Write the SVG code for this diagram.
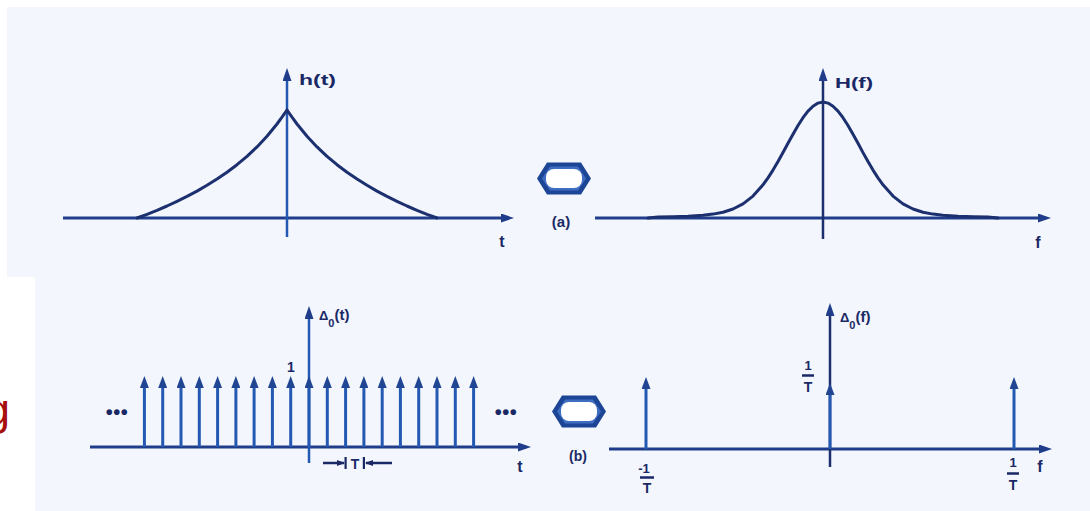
<svg xmlns="http://www.w3.org/2000/svg" width="1090" height="511" viewBox="0 0 1090 511">
<defs>
<style>
.lbl{font-family:"Liberation Sans","DejaVu Sans",sans-serif;font-weight:bold;fill:#1a2966;}
.ax{stroke:#1f3d8a;stroke-width:3;fill:none;}
.vax{stroke:#2459b3;stroke-width:2.5;fill:none;}
.crv{stroke:#1c2f6f;stroke-width:3;fill:none;stroke-linejoin:round;stroke-linecap:round;}
.imp{stroke:#2459b3;stroke-width:3;fill:none;}
.frac{stroke:#1a2966;stroke-width:2.5;}
</style>
<marker id="axh" viewBox="0 0 13 9" markerWidth="13" markerHeight="9" refX="8" refY="4.5" orient="auto" markerUnits="userSpaceOnUse">
<path d="M0,0 L13,4.5 L0,9 z" fill="#1f3d8a"/>
</marker>
<marker id="imph" viewBox="0 0 12 9" markerWidth="12" markerHeight="9" refX="6" refY="4.5" orient="auto" markerUnits="userSpaceOnUse">
<path d="M0,0 L12,4.5 L0,9 z" fill="#1f4593"/>
</marker>
<marker id="sm" viewBox="0 0 8 6" markerWidth="8" markerHeight="6" refX="7" refY="3" orient="auto" markerUnits="userSpaceOnUse">
<path d="M0,0 L8,3 L0,6 z" fill="#1a2966"/>
</marker>
</defs>
<rect x="0" y="0" width="1090" height="511" fill="#ffffff"/>
<rect x="7" y="7" width="1083" height="270" fill="#f3f6fc"/>
<rect x="35" y="277" width="1055" height="234" fill="#f3f6fc"/>
<text x="-15" y="425" font-family="Liberation Sans, sans-serif" font-size="45" fill="#a8100f">g</text>

<g id="plot-a-time">
<line class="ax" x1="63" y1="218" x2="509" y2="218" marker-end="url(#axh)"/>
<line class="vax" x1="287" y1="237" x2="287" y2="73" marker-end="url(#axh)"/>
<path class="crv" d="M137,218 L147,214.3 L157,210.3 L167,206.0 L177,201.3 L187,196.4 L197,191.1 L207,185.3 L217,179.1 L227,172.3 L237,164.7 L247,156.3 L257,146.9 L267,136.2 L277,124.0 L282,117.2 L287,110 L292,117.2 L297,124.0 L307,136.2 L317,146.9 L327,156.3 L337,164.7 L347,172.3 L357,179.1 L367,185.3 L377,191.1 L387,196.4 L397,201.3 L407,206.0 L417,210.3 L427,214.3 L437,218"/>
<text class="lbl" x="299" y="85" font-size="15" textLength="37" lengthAdjust="spacingAndGlyphs">h(t)</text>
<text class="lbl" x="502" y="247" font-size="16" text-anchor="middle">t</text>
</g>

<g id="plot-a-freq">
<line class="ax" x1="595" y1="218" x2="1046" y2="218" marker-end="url(#axh)"/>
<line class="vax" x1="823" y1="239" x2="823" y2="73" marker-end="url(#axh)" style="stroke:#1c2f6f"/>
<path class="crv" d="M648,218 L658,217.1 L673,216.8 L688,216.2 L703,215.2 L713,214.1 L723,212.2 L733,209.0 L743,203.9 L753,196.1 L763,184.8 L768,177.9 L773,170.1 L778,161.6 L783,152.6 L788,143.3 L793,134.2 L798,125.5 L803,117.7 L808,111.1 L813,106.2 L818,103.1 L823,102 L828,103.1 L833,106.2 L838,111.1 L843,117.7 L848,125.5 L853,134.2 L858,143.3 L863,152.6 L868,161.6 L873,170.1 L878,177.9 L883,184.8 L893,196.1 L903,203.9 L913,209.0 L923,212.2 L933,214.1 L943,215.2 L958,216.2 L973,216.8 L988,217.1 L998,218"/>
<text class="lbl" x="835" y="88" font-size="15" textLength="38" lengthAdjust="spacingAndGlyphs">H(f)</text>
<text class="lbl" x="1038" y="248" font-size="16" text-anchor="middle">f</text>
</g>

<g id="equiv-a">
<polygon points="537,178.5 547,162.5 581,162.5 591,178.5 581,194.5 547,194.5" fill="#1d4596"/>
<polygon points="542,178.5 550,166.5 578,166.5 586,178.5 578,190.5 550,190.5" fill="#3f6dbf"/>
<rect x="546" y="169" width="36" height="19" rx="8" fill="#ffffff"/>
<text class="lbl" x="561" y="227" font-size="15" text-anchor="middle">(a)</text>
</g>

<g id="plot-b-time">
<line class="ax" x1="90" y1="447" x2="526" y2="447" marker-end="url(#axh)"/>
<line class="vax" x1="309" y1="463" x2="309" y2="311" marker-end="url(#axh)"/>
<g class="imp" marker-end="url(#imph)">
<line x1="144.4" y1="447" x2="144.4" y2="382"/>
<line x1="162.7" y1="447" x2="162.7" y2="382"/>
<line x1="181.0" y1="447" x2="181.0" y2="382"/>
<line x1="199.3" y1="447" x2="199.3" y2="382"/>
<line x1="217.6" y1="447" x2="217.6" y2="382"/>
<line x1="235.9" y1="447" x2="235.9" y2="382"/>
<line x1="254.1" y1="447" x2="254.1" y2="382"/>
<line x1="272.4" y1="447" x2="272.4" y2="382"/>
<line x1="290.7" y1="447" x2="290.7" y2="382"/>
<line x1="309" y1="447" x2="309" y2="382"/>
<line x1="327.3" y1="447" x2="327.3" y2="382"/>
<line x1="345.6" y1="447" x2="345.6" y2="382"/>
<line x1="363.9" y1="447" x2="363.9" y2="382"/>
<line x1="382.2" y1="447" x2="382.2" y2="382"/>
<line x1="400.4" y1="447" x2="400.4" y2="382"/>
<line x1="418.7" y1="447" x2="418.7" y2="382"/>
<line x1="437.0" y1="447" x2="437.0" y2="382"/>
<line x1="455.3" y1="447" x2="455.3" y2="382"/>
<line x1="473.6" y1="447" x2="473.6" y2="382"/>
</g>
<text class="lbl" x="319" y="320" font-size="15"><tspan font-size="13">Δ</tspan><tspan font-size="11" dy="7">0</tspan><tspan dy="-7">(t)</tspan></text>
<text class="lbl" x="291" y="372" font-size="14" text-anchor="middle">1</text>
<text class="lbl" x="117" y="419" font-size="20" text-anchor="middle" letter-spacing="0.5">•••</text>
<text class="lbl" x="506" y="419" font-size="20" text-anchor="middle" letter-spacing="0.5">•••</text>
<line x1="323" y1="463" x2="344" y2="463" stroke="#1a2966" stroke-width="2.5" marker-end="url(#sm)"/>
<line x1="392" y1="463" x2="366" y2="463" stroke="#1a2966" stroke-width="2.5" marker-end="url(#sm)"/>
<line x1="345.6" y1="457" x2="345.6" y2="469" stroke="#1a2966" stroke-width="2.2"/>
<line x1="363.9" y1="457" x2="363.9" y2="469" stroke="#1a2966" stroke-width="2.2"/>
<text class="lbl" x="355" y="468.5" font-size="14" text-anchor="middle">T</text>
<text class="lbl" x="520" y="472" font-size="16" text-anchor="middle">t</text>
</g>

<g id="equiv-b">
<polygon points="552,411.5 562,395.5 596,395.5 606,411.5 596,427.5 562,427.5" fill="#1d4596"/>
<polygon points="557,411.5 565,399.5 593,399.5 601,411.5 593,423.5 565,423.5" fill="#3f6dbf"/>
<rect x="561" y="402" width="36" height="19" rx="8" fill="#ffffff"/>
<text class="lbl" x="578" y="461" font-size="14" text-anchor="middle">(b)</text>
</g>

<g id="plot-b-freq">
<line class="ax" x1="609" y1="449" x2="1047" y2="449" marker-end="url(#axh)"/>
<line class="vax" x1="830" y1="467" x2="830" y2="308" marker-end="url(#axh)" style="stroke:#1c2f6f"/>
<g class="imp" marker-end="url(#imph)">
<line x1="646" y1="449" x2="646" y2="383"/>
<line x1="830" y1="449" x2="830" y2="389"/>
<line x1="1014" y1="449" x2="1014" y2="383"/>
</g>
<text class="lbl" x="840" y="322" font-size="15"><tspan font-size="13">Δ</tspan><tspan font-size="11" dy="7">0</tspan><tspan dy="-7">(f)</tspan></text>
<text class="lbl" x="808" y="370" font-size="13" text-anchor="middle">1</text>
<line class="frac" x1="802" y1="375.5" x2="814" y2="375.5"/>
<text class="lbl" x="808" y="392" font-size="14" text-anchor="middle">T</text>
<text class="lbl" x="644" y="473" font-size="13" text-anchor="middle">-1</text>
<line class="frac" x1="640" y1="477.5" x2="654" y2="477.5"/>
<text class="lbl" x="647" y="493" font-size="14" text-anchor="middle">T</text>
<text class="lbl" x="1013" y="467" font-size="13" text-anchor="middle">1</text>
<line class="frac" x1="1007" y1="473.5" x2="1019" y2="473.5"/>
<text class="lbl" x="1013" y="490" font-size="14" text-anchor="middle">T</text>
<text class="lbl" x="1040" y="472" font-size="16" text-anchor="middle">f</text>
</g>
</svg>
